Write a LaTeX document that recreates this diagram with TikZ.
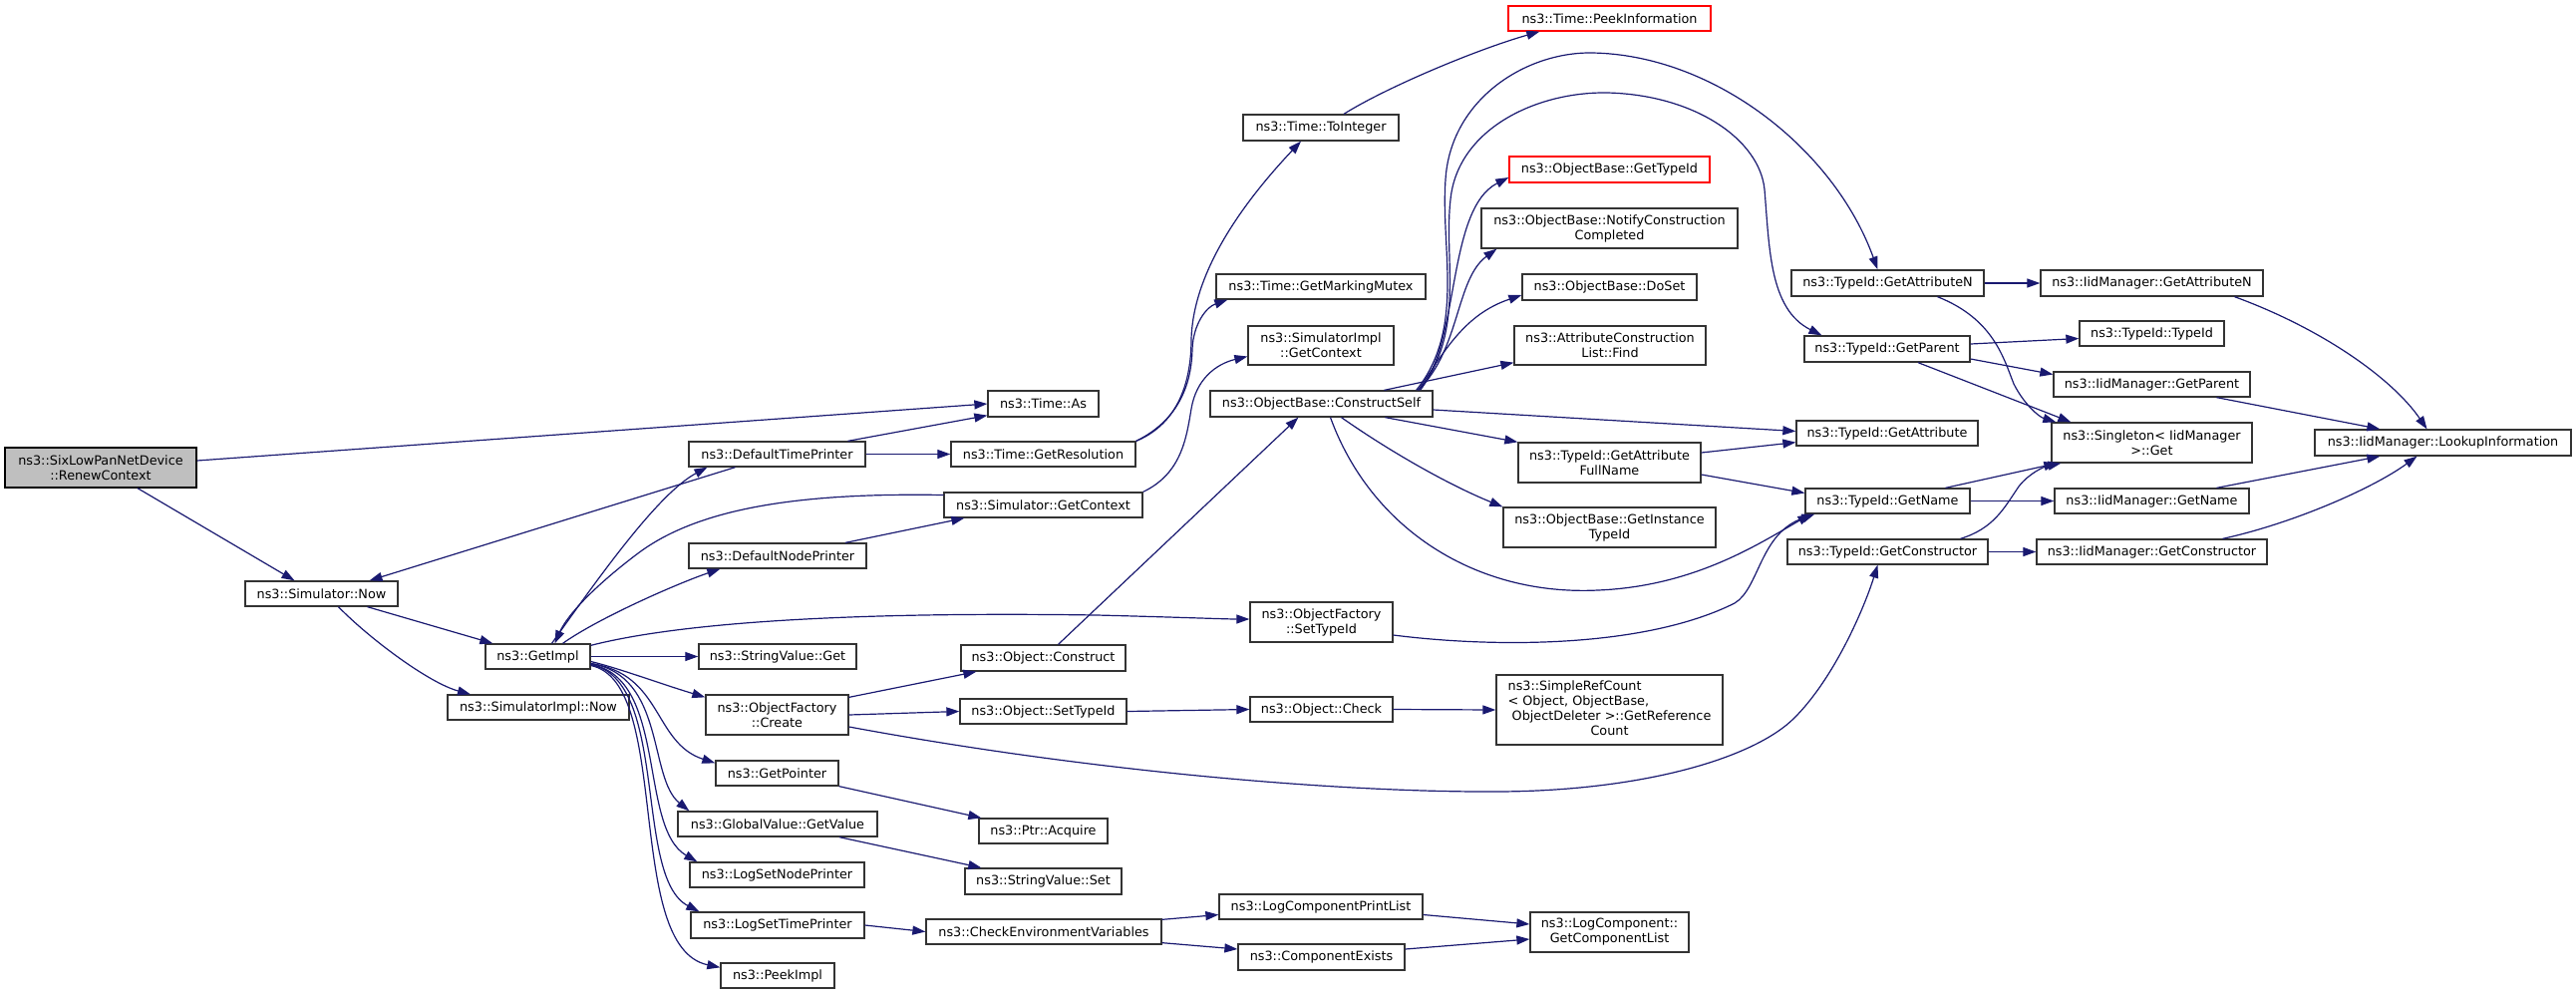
\documentclass[tikz,border=0pt]{standalone}
\usepackage{fontspec}
\setmainfont{DejaVu Sans}
\usetikzlibrary{arrows.meta}
\definecolor{edgec}{HTML}{191970}
\definecolor{bordc}{HTML}{333333}
\definecolor{redc}{HTML}{FF0000}
\definecolor{grayc}{HTML}{BFBFBF}
\begin{document}
\begin{tikzpicture}[x=1pt,y=-1pt,
  box/.style={draw=bordc, fill=white, line width=1.3pt, inner sep=0pt, align=center,
    font=\fontsize{12.8}{15}\selectfont},
  redbox/.style={box, draw=redc},
  mainbox/.style={box, fill=grayc, draw=black},
  edge/.style={draw=edgec, line width=1.2pt, -{Triangle[length=13pt,width=9pt]}, fill=none}]
\useasboundingbox (0,0) rectangle (2584,997);
% column 0
\node[mainbox, minimum width=192pt, minimum height=40pt] (rc) at (101,469) {ns3::SixLowPanNetDevice\\::RenewContext};
% column 1
\node[box, minimum width=153pt, minimum height=25pt] (snow) at (322.5,595.5) {ns3::Simulator::Now};
% column 2
\node[box, minimum width=105pt, minimum height=25pt] (gimpl) at (539.5,658.5) {ns3::GetImpl};
\node[box, minimum width=182pt, minimum height=25pt] (sinow) at (540,709.5) {ns3::SimulatorImpl::Now};
% column 3
\node[box, minimum width=177pt, minimum height=25pt] (dtp) at (779.5,455.5) {ns3::DefaultTimePrinter};
\node[box, minimum width=178pt, minimum height=25pt] (dnp) at (780,557.5) {ns3::DefaultNodePrinter};
\node[box, minimum width=158pt, minimum height=25pt] (svget) at (780,658.5) {ns3::StringValue::Get};
\node[box, minimum width=143pt, minimum height=40pt] (ofc) at (779.5,717) {ns3::ObjectFactory\\::Create};
\node[box, minimum width=123pt, minimum height=25pt] (gptr) at (779.5,775.5) {ns3::GetPointer};
\node[box, minimum width=200pt, minimum height=25pt] (gvgv) at (780,826.5) {ns3::GlobalValue::GetValue};
\node[box, minimum width=175pt, minimum height=25pt] (lsnp) at (779.5,877.5) {ns3::LogSetNodePrinter};
\node[box, minimum width=174pt, minimum height=26pt] (lstp) at (780,928) {ns3::LogSetTimePrinter};
\node[box, minimum width=114pt, minimum height=25pt] (pimpl) at (780,978.5) {ns3::PeekImpl};
% column 4
\node[box, minimum width=111pt, minimum height=26pt] (tas) at (1046.5,405) {ns3::Time::As};
\node[box, minimum width=185pt, minimum height=25pt] (tgr) at (1046.5,455.5) {ns3::Time::GetResolution};
\node[box, minimum width=199pt, minimum height=25pt] (sgc) at (1046.5,506.5) {ns3::Simulator::GetContext};
\node[box, minimum width=165pt, minimum height=26pt] (ocons) at (1046.5,660) {ns3::Object::Construct};
\node[box, minimum width=167pt, minimum height=25pt] (ostid) at (1046.5,713.5) {ns3::Object::SetTypeId};
\node[box, minimum width=129pt, minimum height=25pt] (pacq) at (1046.5,833.5) {ns3::Ptr::Acquire};
\node[box, minimum width=157pt, minimum height=26pt] (svset) at (1046.5,884) {ns3::StringValue::Set};
\node[box, minimum width=236pt, minimum height=25pt] (cev) at (1047,934.5) {ns3::CheckEnvironmentVariables};
% column 5
\node[box, minimum width=156pt, minimum height=26pt] (tti) at (1325,128) {ns3::Time::ToInteger};
\node[box, minimum width=210pt, minimum height=25pt] (tgmm) at (1325,287.5) {ns3::Time::GetMarkingMutex};
\node[box, minimum width=146pt, minimum height=39pt] (sigc) at (1325,346.5) {ns3::SimulatorImpl\\::GetContext};
\node[box, minimum width=223pt, minimum height=26pt] (obcs) at (1325.5,405) {ns3::ObjectBase::ConstructSelf};
\node[box, minimum width=143pt, minimum height=40pt] (ofst) at (1325.5,624) {ns3::ObjectFactory\\::SetTypeId};
\node[box, minimum width=143pt, minimum height=25pt] (ochk) at (1325.5,711.5) {ns3::Object::Check};
\node[box, minimum width=204pt, minimum height=25pt] (lcpl) at (1325,909.5) {ns3::LogComponentPrintList};
\node[box, minimum width=167pt, minimum height=26pt] (cex) at (1325.5,960) {ns3::ComponentExists};
% column 6
\node[redbox, minimum width=203pt, minimum height=25pt] (tpi) at (1614.5,18.5) {ns3::Time::PeekInformation};
\node[redbox, minimum width=201pt, minimum height=26pt] (obgt) at (1614.5,170) {ns3::ObjectBase::GetTypeId};
\node[box, minimum width=257pt, minimum height=40pt] (obncc) at (1614.5,229) {ns3::ObjectBase::NotifyConstruction\\Completed};
\node[box, minimum width=175pt, minimum height=26pt] (obds) at (1614.5,288) {ns3::ObjectBase::DoSet};
\node[box, minimum width=192pt, minimum height=39pt] (acl) at (1615,346.5) {ns3::AttributeConstruction\\List::Find};
\node[box, minimum width=183pt, minimum height=40pt] (tgafn) at (1614.5,464) {ns3::TypeId::GetAttribute\\FullName};
\node[box, minimum width=213pt, minimum height=40pt] (obgit) at (1614.5,529) {ns3::ObjectBase::GetInstance\\TypeId};
\node[box, minimum width=227pt, minimum height=70pt] (src) at (1614.5,712) {\begin{tabular}{@{}l@{}}ns3::SimpleRefCount\\{<} Object, ObjectBase,\\\ ObjectDeleter {>}::GetReference\\\multicolumn{1}{@{}c@{}}{Count}\end{tabular}};
\node[box, minimum width=159pt, minimum height=40pt] (lcgcl) at (1614.5,935) {ns3::LogComponent::\\GetComponentList};
% column 7
\node[box, minimum width=193pt, minimum height=26pt] (tgan) at (1893.5,284) {ns3::TypeId::GetAttributeN};
\node[box, minimum width=166pt, minimum height=26pt] (tgp) at (1893,350) {ns3::TypeId::GetParent};
\node[box, minimum width=182pt, minimum height=25pt] (tga) at (1893,434.5) {ns3::TypeId::GetAttribute};
\node[box, minimum width=165pt, minimum height=25pt] (tgn) at (1893.5,502.5) {ns3::TypeId::GetName};
\node[box, minimum width=201pt, minimum height=25pt] (tgc) at (1893.5,553.5) {ns3::TypeId::GetConstructor};
% column 8
\node[box, minimum width=223pt, minimum height=26pt] (igan) at (2158.5,284) {ns3::IidManager::GetAttributeN};
\node[box, minimum width=145pt, minimum height=25pt] (ttid) at (2158.5,334.5) {ns3::TypeId::TypeId};
\node[box, minimum width=197pt, minimum height=25pt] (igp) at (2158.5,385.5) {ns3::IidManager::GetParent};
\node[box, minimum width=201pt, minimum height=40pt] (sing) at (2158.5,444) {ns3::Singleton{<} IidManager\\{>}::Get};
\node[box, minimum width=195pt, minimum height=25pt] (ign) at (2158.5,502.5) {ns3::IidManager::GetName};
\node[box, minimum width=231pt, minimum height=25pt] (igc) at (2158.5,553.5) {ns3::IidManager::GetConstructor};
% column 9
\node[box, minimum width=257pt, minimum height=26pt] (ili) at (2450.5,444) {ns3::IidManager::LookupInformation};

% edges
\draw[edge] ([yshift=7pt]rc.east) -- (tas.west);
\draw[edge] ([xshift=37pt]rc.south) -- ([xshift=-27pt]snow.north);
\draw[edge] ([xshift=46pt]snow.south) -- ([xshift=8pt]gimpl.north west);
\draw[edge] ([xshift=17pt]snow.south) .. controls (370,640) and (430,685) .. ([xshift=-68pt]sinow.north);
\draw[edge] ([xshift=-42pt]dtp.south) -- ([xshift=48pt]snow.north);
\draw[edge] ([xshift=14pt]gimpl.north) .. controls (600,580) and (660,495) .. ([xshift=-70pt]dtp.south);
\draw[edge] ([yshift=10pt]sgc.west) .. controls (800,494) and (700,510) .. (640,555) .. controls (600,585) and (570,615) .. ([xshift=17pt]gimpl.north);
\draw[edge] ([xshift=71pt]dtp.north) -- ([yshift=2pt]tas.south west);
\draw[edge] (dtp.east) -- (tgr.west);
\draw[edge] (tgr.north east) .. controls (1170,430) and (1195,400) .. (1195,340) .. controls (1197,270) and (1250,200) .. ([xshift=-20pt]tti.south);
\draw[edge] (tgr.north east) .. controls (1175,425) and (1195,395) .. (1196,350) .. controls (1197,325) and (1210,308) .. ([xshift=12pt]tgmm.south west);
\draw[edge] ([xshift=23pt]tti.north) .. controls (1390,88) and (1480,50) .. ([xshift=32pt]tpi.south west);
\draw[edge] (sgc.north east) .. controls (1185,475) and (1190,440) .. (1195,410) .. controls (1200,380) and (1220,365) .. ([yshift=-11pt]sigc.west);
\draw[edge] ([xshift=68pt]dnp.north) -- ([xshift=21pt]sgc.south west);
\draw[edge] ([xshift=25pt]gimpl.north) .. controls (600,620) and (680,585) .. ([xshift=32pt]dnp.south west);
\draw[edge] ([yshift=-2pt]gimpl.north east) .. controls (700,620) and (900,614) .. (1100,617) .. controls (1180,619) and (1230,621) .. ([yshift=3pt]ofst.west);
\draw[edge] (gimpl.east) -- (svget.west);
\draw[edge] ([yshift=-5pt]gimpl.east) .. controls (620,670) and (660,685) .. ([yshift=-3pt]ofc.north west);
\draw[edge] ([yshift=-7pt]gimpl.east) .. controls (665,676) and (655,745) .. ([yshift=-3pt]gptr.north west);
\draw[edge] ([yshift=-7pt]gimpl.east) .. controls (668,678) and (650,780) .. ([xshift=12pt]gvgv.north west);
\draw[edge] ([yshift=-8pt]gimpl.east) .. controls (670,680) and (640,830) .. ([xshift=8pt]lsnp.north west);
\draw[edge] ([yshift=-8pt]gimpl.east) .. controls (672,682) and (635,880) .. ([xshift=9pt]lstp.north west);
\draw[edge] ([yshift=-9pt]gimpl.east) .. controls (675,684) and (625,950) .. ([yshift=-5pt]pimpl.north west);
\draw[edge] ([yshift=-3pt]ofc.north east) -- ([xshift=16pt]ocons.south west);
\draw[edge] (ofc.east) -- (ostid.west);
\draw[edge] ([yshift=-12pt]ofc.east) .. controls (1100,775) and (1350,795) .. (1504,794) .. controls (1650,793) and (1760,760) .. (1800,720) .. controls (1840,680) and (1870,610) .. ([xshift=-10pt]tgc.south);
\draw[edge] (ostid.east) -- (ochk.west);
\draw[edge] (ochk.east) -- (src.west);
\draw[edge] ([xshift=15pt]ocons.north) -- ([xshift=89pt]obcs.south west);
\draw[edge] (gptr.south east) -- ([xshift=3pt]pacq.north west);
\draw[edge] ([xshift=62pt]gvgv.south) -- ([xshift=17pt]svset.north west);
\draw[edge] (lstp.east) -- (cev.west);
\draw[edge] ([yshift=-1pt]cev.north east) -- ([yshift=-8pt]lcpl.west);
\draw[edge] ([yshift=2pt]cev.south east) -- ([yshift=8pt]cex.west);
\draw[edge] ([yshift=-8pt]lcpl.east) -- ([yshift=8pt]lcgcl.west);
\draw[edge] ([yshift=8pt]cex.east) -- ([yshift=-7pt]lcgcl.west);
\draw[edge] ([xshift=-15pt]obcs.north east) .. controls (1465,350) and (1450,210) .. ([yshift=-8pt]obgt.west);
\draw[edge] ([xshift=-15pt]obcs.north east) .. controls (1465,350) and (1460,280) .. ([xshift=16pt]obncc.south west);
\draw[edge] ([xshift=-15pt]obcs.north east) .. controls (1450,350) and (1470,315) .. ([yshift=-8pt]obds.west);
\draw[edge] ([xshift=63pt]obcs.north) -- ([yshift=3pt]acl.south west);
\draw[edge] ([xshift=-17pt]obcs.north east) .. controls (1470,330) and (1445,250) .. (1450,180) .. controls (1455,100) and (1530,52) .. (1597,53) .. controls (1720,55) and (1840,150) .. ([xshift=-10pt]tgan.north);
\draw[edge] ([xshift=-13pt]obcs.north east) .. controls (1470,330) and (1448,260) .. (1455,200) .. controls (1462,130) and (1540,92) .. (1612,93) .. controls (1700,95) and (1765,140) .. (1770,190) .. controls (1775,250) and (1775,310) .. ([xshift=18pt]tgp.north west);
\draw[edge] ([yshift=-6pt]obcs.east) -- ([yshift=2pt]tga.west);
\draw[edge] ([xshift=64pt]obcs.south) -- (tgafn.north west);
\draw[edge] ([xshift=20pt]obcs.south) .. controls (1390,450) and (1450,485) .. (obgit.north west);
\draw[edge] ([xshift=9pt]obcs.south) .. controls (1375,530) and (1480,598) .. (1603,592) .. controls (1700,588) and (1765,545) .. ([xshift=6pt]tgn.south west);
\draw[edge] ([yshift=-13pt]ofst.east) .. controls (1500,650) and (1650,650) .. (1740,605) .. controls (1765,590) and (1765,535) .. ([xshift=10pt]tgn.south west);
\draw[edge] ([yshift=10pt]tgafn.east) -- ([yshift=4pt]tga.south west);
\draw[edge] ([yshift=-12pt]tgafn.east) -- ([yshift=8pt]tgn.west);
\draw[edge] (tgan.east) -- (igan.west);
\draw[edge] ([xshift=50pt]tgan.south) .. controls (2000,320) and (2010,360) .. (2020,385) .. controls (2030,405) and (2045,418) .. ([xshift=5pt]sing.north west);
\draw[edge] ([yshift=5pt]tgp.east) -- ([yshift=-5pt]ttid.west);
\draw[edge] ([yshift=-10pt]tgp.east) -- ([yshift=10pt]igp.west);
\draw[edge] ([xshift=31pt]tgp.south) -- ([xshift=20pt]sing.north west);
\draw[edge] ([xshift=58pt]tgn.north) -- ([xshift=6pt]sing.south west);
\draw[edge] (tgn.east) -- (ign.west);
\draw[edge] ([xshift=73pt]tgc.north) .. controls (2000,530) and (2010,510) .. (2025,488) .. controls (2035,475) and (2050,468) .. ([xshift=10pt]sing.south west);
\draw[edge] (tgc.east) -- (igc.west);
\draw[edge] ([xshift=83pt]igan.south) .. controls (2330,330) and (2400,380) .. ([xshift=-16pt]ili.north);
\draw[edge] ([xshift=65pt]igp.south) -- ([xshift=66pt]ili.north west);
\draw[edge] ([xshift=65pt]ign.north) -- ([xshift=66pt]ili.south west);
\draw[edge] ([xshift=71pt]igc.north) .. controls (2300,525) and (2380,490) .. ([xshift=-26pt]ili.south);
\end{tikzpicture}
\end{document}
